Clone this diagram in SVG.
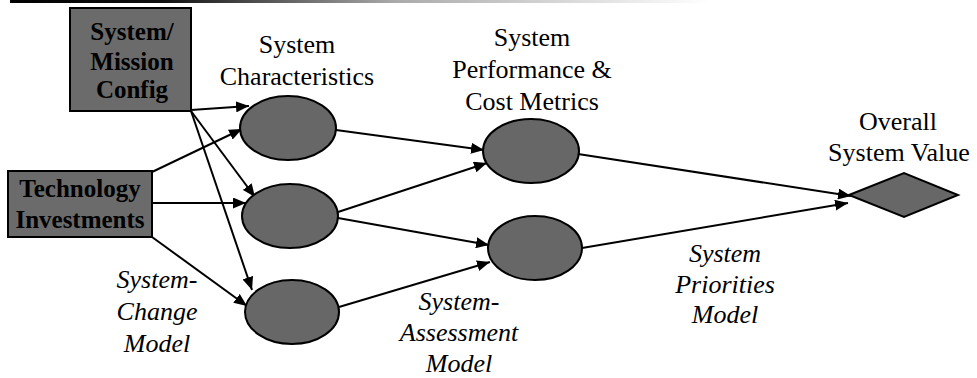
<svg xmlns="http://www.w3.org/2000/svg" width="977" height="378" viewBox="0 0 977 378">
<style>
.lbl{font-family:"Liberation Serif","Times New Roman",serif;font-size:26px;fill:#000;text-anchor:middle}
.it{font-style:italic}
.box{fill:#6b6b6b;stroke:#000;stroke-width:2}
.boxt{font-family:"Liberation Serif","Times New Roman",serif;font-size:25px;font-weight:bold;fill:#000;text-anchor:middle}
.node{fill:#676767;stroke:#000;stroke-width:2}
.edge{stroke:#000;stroke-width:2;fill:none;marker-end:url(#ah)}
</style>
<defs>
<marker id="ah" markerUnits="userSpaceOnUse" markerWidth="14" markerHeight="11" refX="13" refY="5.5" orient="auto">
<path d="M0,0 L13,5.5 L0,11 z" fill="#000"/>
</marker>
<linearGradient id="rule" x1="0" y1="0" x2="1" y2="0">
<stop offset="0" stop-color="#000"/>
<stop offset="0.22" stop-color="#111"/>
<stop offset="0.55" stop-color="#aaa"/>
<stop offset="1" stop-color="#fff"/>
</linearGradient>
</defs>
<rect x="10" y="0" width="700" height="3" fill="url(#rule)"/>

<g id="connectors">
<line class="edge" x1="191" y1="110" x2="249" y2="106"/>
<line class="edge" x1="191" y1="111" x2="255" y2="197"/>
<line class="edge" x1="191" y1="111" x2="252" y2="290"/>
<line class="edge" x1="152" y1="172" x2="242" y2="129"/>
<line class="edge" x1="152" y1="203" x2="246" y2="203"/>
<line class="edge" x1="152" y1="237" x2="247" y2="306"/>
<line class="edge" x1="336" y1="130" x2="484" y2="150"/>
<line class="edge" x1="338" y1="212" x2="487" y2="163"/>
<line class="edge" x1="338" y1="218" x2="489" y2="245"/>
<line class="edge" x1="339" y1="307" x2="490" y2="262"/>
<line class="edge" x1="578" y1="154" x2="851" y2="196"/>
<line class="edge" x1="582" y1="248" x2="848" y2="203"/>
</g>

<g id="config">
<rect class="box" x="70" y="8" width="121" height="103"/>
<text class="boxt" x="132" y="40">System/</text>
<text class="boxt" x="132" y="70">Mission</text>
<text class="boxt" x="132" y="98">Config</text>
</g>
<g id="tech">
<rect class="box" x="8" y="171" width="144" height="66"/>
<text class="boxt" x="80" y="197">Technology</text>
<text class="boxt" x="80" y="228">Investments</text>
</g>

<g id="char-label">
<text class="lbl" x="297" y="53">System</text>
<text class="lbl" x="297" y="85">Characteristics</text>
</g>
<g id="c1"><ellipse class="node" cx="288" cy="128" rx="48" ry="32"/></g>
<g id="c2"><ellipse class="node" cx="290" cy="216" rx="48" ry="32"/></g>
<g id="c3"><ellipse class="node" cx="292" cy="312" rx="47" ry="32"/></g>

<g id="metrics-label">
<text class="lbl" x="532" y="46">System</text>
<text class="lbl" x="532" y="78">Performance &amp;</text>
<text class="lbl" x="532" y="110">Cost Metrics</text>
</g>
<g id="m1"><ellipse class="node" cx="531" cy="151" rx="48" ry="32"/></g>
<g id="m2"><ellipse class="node" cx="535" cy="248" rx="47" ry="32"/></g>

<g id="value">
<text class="lbl" x="898" y="130">Overall</text>
<text class="lbl" x="899" y="161">System Value</text>
<polygon points="849,195 904,173 958,195 904,217" fill="#676767" stroke="#000" stroke-width="2"/>
</g>

<g id="labels">
<text class="lbl it" x="157" y="288">System-</text>
<text class="lbl it" x="157" y="320">Change</text>
<text class="lbl it" x="157" y="352">Model</text>
<text class="lbl it" x="459" y="310">System-</text>
<text class="lbl it" x="459" y="341">Assessment</text>
<text class="lbl it" x="459" y="372">Model</text>
<text class="lbl it" x="725" y="262">System</text>
<text class="lbl it" x="725" y="293">Priorities</text>
<text class="lbl it" x="725" y="323">Model</text>
</g>
</svg>
